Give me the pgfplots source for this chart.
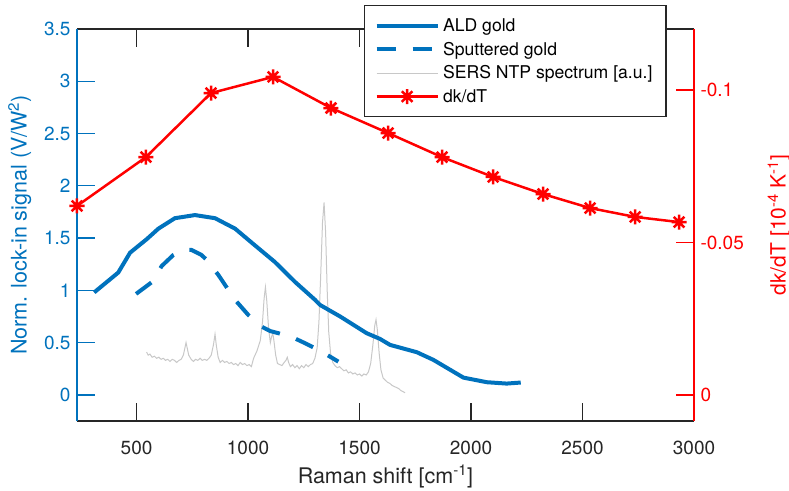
\documentclass[border=0pt]{standalone}
\usepackage{fontspec}
\setmainfont{TeX Gyre Heros}
\usepackage{pgfplots}
\pgfplotsset{compat=1.18}

\definecolor{mblue}{RGB}{0,114,189}
\definecolor{mgray}{RGB}{38,38,38}
\definecolor{sers}{RGB}{200,200,200}

% MATLAB-like '*' marker (plus and cross)
\pgfdeclareplotmark{mstar}{%
  \pgfpathmoveto{\pgfpoint{-\pgfplotmarksize}{0pt}}\pgfpathlineto{\pgfpoint{\pgfplotmarksize}{0pt}}%
  \pgfpathmoveto{\pgfpoint{0pt}{-\pgfplotmarksize}}\pgfpathlineto{\pgfpoint{0pt}{\pgfplotmarksize}}%
  \pgfpathmoveto{\pgfpoint{-0.707\pgfplotmarksize}{-0.707\pgfplotmarksize}}\pgfpathlineto{\pgfpoint{0.707\pgfplotmarksize}{0.707\pgfplotmarksize}}%
  \pgfpathmoveto{\pgfpoint{-0.707\pgfplotmarksize}{0.707\pgfplotmarksize}}\pgfpathlineto{\pgfpoint{0.707\pgfplotmarksize}{-0.707\pgfplotmarksize}}%
  \pgfusepathqstroke}

\pgfplotsset{
  base/.style={
    width=617pt, height=392pt, scale only axis,
    at={(0pt,0pt)}, anchor=south west,
    xmin=233, xmax=3000,
    major tick length=18pt,
    tick align=inside,
    tick label style={font=\fontsize{19}{22}\selectfont},
    label style={font=\fontsize{21.5}{25}\selectfont},
    /pgf/number format/assume math mode=true,
  },
}

\begin{document}
\begin{tikzpicture}
\useasboundingbox (-77pt,-69pt) rectangle (712pt,421pt);
\begin{axis}[base, name=main,
    separate axis lines,
    every outer x axis line/.append style={draw=mgray, line width=1.4pt},
    every outer y axis line/.append style={draw=mblue, line width=1.4pt},
    ytick pos=left,
    ymin=-0.25, ymax=3.5,
    xtick={500,1000,1500,2000,2500,3000},
    xticklabels={500,1000,1500,2000,2500,3000},
    ytick={0,0.5,1,1.5,2,2.5,3,3.5},
    yticklabels={0,0.5,1,1.5,2,2.5,3,3.5},
    xtick style={draw=mgray, line width=1.5pt},
    ytick style={draw=mblue, line width=1.4pt},
    xticklabel style={text=mgray, yshift=-16pt},
    yticklabel style={text=mblue, xshift=-3pt},
    xlabel={Raman shift [cm\textsuperscript{-1}]},
    ylabel={Norm. lock-in signal (V/W\textsuperscript{2})},
    xlabel style={text=mgray, yshift=-4pt},
    ylabel style={text=mblue},
    ylabel shift=6pt,
]
% SERS NTP spectrum
\addplot[sers, line width=1pt] coordinates {
(545,0.41) (552,0.38) (560,0.39) (570,0.36) (580,0.37) (590,0.35) (600,0.36)
(610,0.34) (620,0.35) (630,0.33) (640,0.34) (650,0.32) (660,0.34) (670,0.33)
(680,0.31) (690,0.33) (700,0.34) (710,0.38) (718,0.46) (722,0.50) (726,0.46)
(734,0.38) (745,0.34) (755,0.32) (765,0.34) (775,0.33) (785,0.35) (795,0.33)
(805,0.34) (815,0.33) (825,0.35) (835,0.38) (845,0.48) (852,0.58) (858,0.47)
(866,0.36) (875,0.31) (885,0.33) (895,0.31) (905,0.32) (915,0.30) (925,0.31)
(935,0.29) (945,0.30) (955,0.28) (965,0.31) (975,0.29) (985,0.30) (995,0.28)
(1005,0.29) (1015,0.27) (1025,0.35) (1040,0.42) (1055,0.52) (1065,0.70)
(1072,0.92) (1078,1.03) (1084,0.90) (1092,0.64) (1100,0.50) (1106,0.56)
(1111,0.59) (1116,0.52) (1124,0.38) (1132,0.30) (1142,0.29) (1152,0.28)
(1162,0.31) (1170,0.33) (1176,0.36) (1182,0.31) (1190,0.27) (1200,0.29)
(1210,0.26) (1220,0.28) (1230,0.25) (1240,0.28) (1250,0.26) (1260,0.29)
(1270,0.27) (1280,0.29) (1290,0.30) (1300,0.35) (1310,0.45) (1318,0.70)
(1326,1.15) (1334,1.65) (1341,1.84) (1348,1.55) (1355,1.00) (1362,0.60)
(1370,0.40) (1380,0.31) (1390,0.28) (1400,0.26) (1410,0.27) (1420,0.25)
(1430,0.23) (1440,0.24) (1450,0.21) (1460,0.22) (1470,0.20) (1480,0.21)
(1490,0.19) (1500,0.20) (1510,0.18) (1520,0.20) (1530,0.19) (1540,0.22)
(1550,0.30) (1560,0.48) (1568,0.66) (1574,0.72) (1580,0.62) (1588,0.40)
(1596,0.24) (1606,0.16) (1616,0.14) (1626,0.12) (1636,0.11) (1646,0.09)
(1656,0.08) (1666,0.07) (1676,0.06) (1686,0.04) (1696,0.03) (1704,0.02)
};
% ALD gold
\addplot[mblue, line width=4pt] coordinates {
(310,0.98) (418,1.17) (471,1.36) (546,1.49) (598,1.59) (672,1.69) (762,1.72)
(852,1.69) (942,1.59) (1031,1.43) (1121,1.27) (1211,1.08) (1300,0.91)
(1323,0.86) (1413,0.75) (1532,0.59) (1592,0.535) (1637,0.478) (1757,0.408)
(1831,0.335) (1966,0.165) (2071,0.121) (2160,0.108) (2223,0.118)
};
% Sputtered gold
\addplot[mblue, line width=4pt, dash pattern=on 19pt off 17pt] coordinates {
(498,0.966) (568,1.077) (613,1.233) (665,1.338) (710,1.39) (747,1.386)
(790,1.34) (815,1.291) (867,1.147) (942,0.908) (1001,0.765) (1054,0.660)
(1100,0.61) (1136,0.590) (1200,0.55) (1256,0.494) (1330,0.414) (1405,0.318)
};
\node[anchor=south west, text=mblue, font=\fontsize{19}{22}\selectfont, inner sep=1pt]
  at (rel axis cs:0,1) {×10\textsuperscript{-5}};
\end{axis}

\begin{axis}[base,
    axis x line=none, axis y line*=right,
    y dir=reverse, ymin=-0.12, ymax=0.0085,
    ytick={-0.1,-0.05,0}, yticklabels={-0.1,-0.05,0},
    y axis line style={draw=red, line width=1.4pt},
    ytick style={draw=red, line width=1.4pt},
    yticklabel style={text=red, xshift=3pt},
    ylabel={dk/dT [10\textsuperscript{-4} K\textsuperscript{-1}]},
    ylabel style={text=red, font=\fontsize{21}{25}\selectfont},
    ylabel shift=17pt,
    legend style={at={(0.465,1.061)}, anchor=north west, draw=mgray,
      line width=1.4pt, fill=white, font=\fontsize{17.6}{20}\selectfont,
      row sep=5pt, inner xsep=10pt, inner ysep=11pt,
      nodes={inner xsep=3.5pt, inner ysep=2pt}},
    legend cell align=left,
    legend image code/.code={\draw[mark repeat=2,mark phase=2,#1]
      plot coordinates {(0pt,0pt) (30.5pt,0pt) (61pt,0pt)};},
]
% x tick marks, bottom and top, pointing inward
\pgfplotsinvokeforeach{500,1000,1500,2000,2500}{
  \draw[mgray, line width=1.5pt] (axis cs:#1,0.0085) -- ++(0pt,18pt);
  \draw[mgray, line width=1.5pt] (axis cs:#1,-0.12) -- ++(0pt,-18pt);
}
\addlegendimage{mblue, line width=4pt}
\addlegendentry{ALD gold}
\addlegendimage{mblue, line width=4pt, dash pattern=on 19pt off 17pt}
\addlegendentry{Sputtered gold}
\addlegendimage{sers, line width=1pt}
\addlegendentry{SERS NTP spectrum [a.u.]}
\addplot[red, line width=2.5pt, mark=mstar, mark size=7.5pt, mark options={solid}] coordinates {
(233,-0.0620) (542,-0.0780) (834,-0.0990) (1112,-0.1043) (1372,-0.0941)
(1628,-0.0859) (1870,-0.0780) (2099,-0.0715) (2323,-0.0659) (2534,-0.0613)
(2736,-0.0584) (2933,-0.0567)
};
\addlegendentry{dk/dT}
\end{axis}
\end{tikzpicture}
\end{document}
